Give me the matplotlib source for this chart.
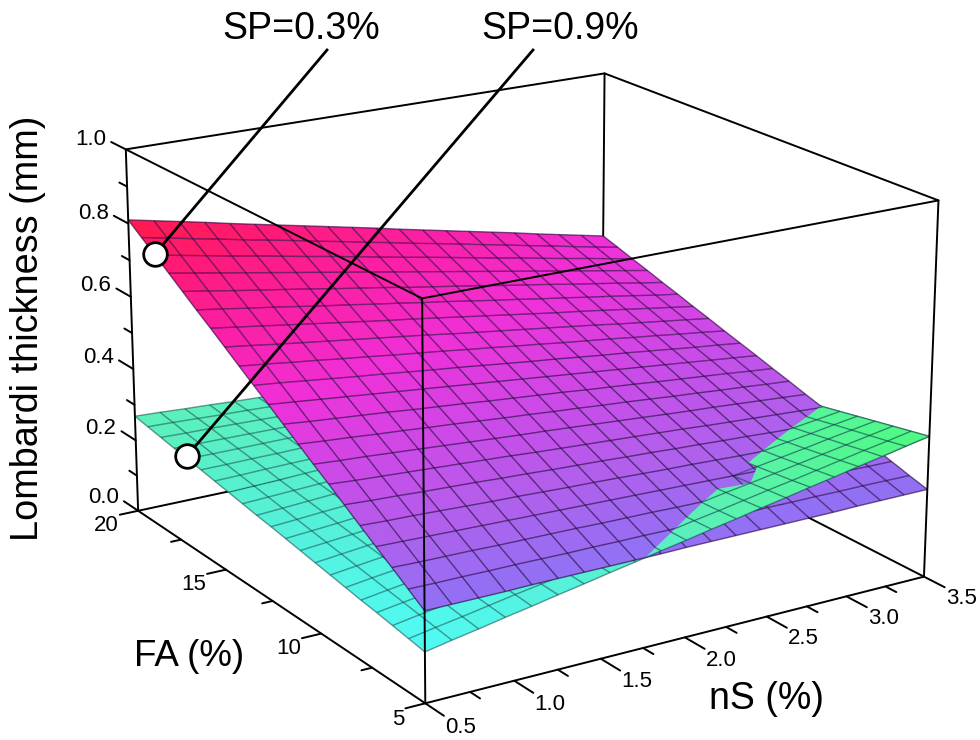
import numpy as np
import matplotlib
matplotlib.use('Agg')
import matplotlib.pyplot as plt
from matplotlib.colors import LinearSegmentedColormap, Normalize
from mpl_toolkits.mplot3d.art3d import Poly3DCollection, Line3DCollection

plt.rcParams['font.family'] = ['Liberation Sans', 'DejaVu Sans']

# Grille des deux surfaces (lignes : FA, colonnes : nS)
nS = [0.5, 0.65, 0.8, 0.95, 1.1, 1.25, 1.4, 1.55, 1.7, 1.85, 2.0, 2.15, 2.3, 2.45, 2.6, 2.75, 2.9, 3.05, 3.2, 3.35, 3.5]
FA = [5, 5.75, 6.5, 7.25, 8, 8.75, 9.5, 10.25, 11, 11.75, 12.5, 13.25, 14, 14.75, 15.5, 16.25, 17, 17.75, 18.5, 19.25, 20]

# Epaisseur (mm), SP=0.3%
sp03 = [
    [.235,.235,.235,.235,.236,.236,.236,.236,.236,.236,.237,.237,.237,.237,.237,.237,.237,.238,.238,.238,.238],
    [.264,.263,.263,.262,.262,.261,.260,.260,.259,.259,.258,.258,.257,.256,.256,.255,.255,.254,.254,.253,.252],
    [.293,.291,.290,.289,.287,.286,.285,.284,.282,.281,.280,.278,.277,.276,.275,.273,.272,.271,.270,.268,.267],
    [.321,.319,.317,.315,.313,.311,.309,.307,.305,.303,.301,.299,.297,.295,.293,.291,.289,.287,.285,.283,.281],
    [.350,.347,.345,.342,.339,.336,.334,.331,.328,.326,.323,.320,.317,.315,.312,.309,.307,.304,.301,.298,.296],
    [.379,.375,.372,.368,.365,.362,.358,.355,.351,.348,.345,.341,.338,.334,.331,.327,.324,.320,.317,.314,.310],
    [.408,.403,.399,.395,.391,.387,.383,.379,.374,.370,.366,.362,.358,.354,.350,.345,.341,.337,.333,.329,.325],
    [.436,.431,.427,.422,.417,.412,.407,.402,.397,.393,.388,.383,.378,.373,.368,.363,.359,.354,.349,.344,.339],
    [.465,.459,.454,.448,.443,.437,.432,.426,.420,.415,.409,.404,.398,.393,.387,.381,.376,.370,.365,.359,.354],
    [.494,.487,.481,.475,.469,.462,.456,.450,.443,.437,.431,.425,.418,.412,.406,.399,.393,.387,.381,.374,.368],
    [.523,.516,.509,.502,.495,.488,.481,.474,.467,.460,.453,.446,.439,.432,.425,.418,.411,.404,.397,.390,.383],
    [.551,.544,.536,.528,.520,.513,.505,.497,.490,.482,.474,.466,.459,.451,.443,.436,.428,.420,.412,.405,.397],
    [.580,.572,.563,.555,.546,.538,.529,.521,.513,.504,.496,.487,.479,.470,.462,.454,.445,.437,.428,.420,.411],
    [.609,.600,.590,.581,.572,.563,.554,.545,.536,.526,.517,.508,.499,.490,.481,.472,.462,.453,.444,.435,.426],
    [.638,.628,.618,.608,.598,.588,.578,.568,.559,.549,.539,.529,.519,.509,.499,.490,.480,.470,.460,.450,.440],
    [.666,.656,.645,.635,.624,.613,.603,.592,.582,.571,.561,.550,.539,.529,.518,.508,.497,.487,.476,.465,.455],
    [.695,.684,.672,.661,.650,.639,.627,.616,.605,.593,.582,.571,.560,.548,.537,.526,.514,.503,.492,.480,.469],
    [.724,.712,.700,.688,.676,.664,.652,.640,.628,.616,.604,.592,.580,.568,.556,.544,.532,.520,.508,.496,.484],
    [.753,.740,.727,.714,.702,.689,.676,.664,.651,.638,.625,.613,.600,.587,.574,.562,.549,.536,.524,.511,.498],
    [.781,.768,.754,.741,.727,.714,.701,.687,.674,.660,.647,.633,.620,.607,.593,.580,.566,.553,.539,.526,.513],
    [.810,.796,.782,.768,.753,.739,.725,.711,.697,.683,.669,.654,.640,.626,.612,.598,.584,.569,.555,.541,.527],
]

# SP=0.9%
sp09 = [
    [.131,.144,.156,.169,.181,.194,.206,.219,.231,.244,.256,.269,.281,.294,.306,.319,.331,.344,.356,.369,.381],
    [.138,.150,.161,.173,.185,.196,.208,.220,.232,.243,.255,.267,.278,.290,.302,.313,.325,.337,.349,.360,.372],
    [.145,.156,.167,.177,.188,.199,.210,.221,.232,.243,.254,.265,.276,.287,.297,.308,.319,.330,.341,.352,.363],
    [.152,.162,.172,.182,.192,.202,.212,.222,.232,.243,.253,.263,.273,.283,.293,.303,.313,.323,.334,.344,.354],
    [.158,.168,.177,.186,.196,.205,.214,.224,.233,.242,.252,.261,.270,.280,.289,.298,.308,.317,.326,.336,.345],
    [.165,.174,.182,.191,.199,.208,.216,.225,.233,.242,.251,.259,.268,.276,.285,.293,.302,.310,.319,.327,.336],
    [.172,.180,.188,.195,.203,.211,.218,.226,.234,.242,.249,.257,.265,.273,.280,.288,.296,.303,.311,.319,.327],
    [.179,.186,.193,.200,.207,.214,.221,.227,.234,.241,.248,.255,.262,.269,.276,.283,.290,.297,.304,.311,.318],
    [.186,.192,.198,.204,.210,.217,.223,.229,.235,.241,.247,.253,.260,.266,.272,.278,.284,.290,.296,.303,.309],
    [.193,.198,.203,.209,.214,.219,.225,.230,.235,.241,.246,.251,.257,.262,.267,.273,.278,.283,.289,.294,.300],
    [.200,.204,.209,.213,.218,.222,.227,.231,.236,.240,.245,.250,.254,.259,.263,.268,.272,.277,.281,.286,.291],
    [.206,.210,.214,.218,.221,.225,.229,.233,.236,.240,.244,.248,.251,.255,.259,.263,.266,.270,.274,.278,.282],
    [.213,.216,.219,.222,.225,.228,.231,.234,.237,.240,.243,.246,.249,.252,.255,.258,.261,.264,.266,.269,.272],
    [.220,.222,.224,.227,.229,.231,.233,.235,.237,.240,.242,.244,.246,.248,.250,.253,.255,.257,.259,.261,.263],
    [.227,.228,.230,.231,.232,.234,.235,.236,.238,.239,.241,.242,.243,.245,.246,.247,.249,.250,.252,.253,.254],
    [.234,.234,.235,.235,.236,.237,.237,.238,.238,.239,.240,.240,.241,.241,.242,.243,.243,.244,.244,.245,.245],
    [.241,.240,.240,.240,.240,.240,.239,.239,.239,.239,.238,.238,.238,.238,.238,.237,.237,.237,.237,.236,.236],
    [.247,.246,.245,.244,.243,.242,.241,.240,.239,.238,.237,.236,.235,.234,.233,.232,.231,.230,.229,.228,.227],
    [.254,.252,.251,.249,.247,.245,.243,.242,.240,.238,.236,.234,.233,.231,.229,.227,.225,.223,.222,.220,.218],
    [.261,.259,.256,.253,.251,.248,.246,.243,.240,.238,.235,.232,.230,.227,.225,.222,.219,.217,.214,.212,.209],
    [.268,.265,.261,.258,.254,.251,.248,.244,.241,.237,.234,.231,.227,.224,.220,.217,.214,.210,.207,.203,.200],
]

z_major = [0.0, 0.2, 0.4, 0.6, 0.8, 1.0]
z_minor = [0.1, 0.3, 0.5, 0.7, 0.9]
fa_major = [5, 10, 15, 20]
fa_minor = [7.5, 12.5, 17.5]
ns_major = [0.5, 1.0, 1.5, 2.0, 2.5, 3.0, 3.5]
ns_minor = [0.75, 1.25, 1.75, 2.25, 2.75, 3.25]

W, H = 980, 740
fig = plt.figure(figsize=(W / 100, H / 100), dpi=100)
ax = fig.add_axes([0.0720985, -0.0994228, 0.8978621, 1.1890607], projection='3d')
ax.computed_zorder = False
ax.set_proj_type('persp', focal_length=0.7853)
ax.view_init(elev=18.7639, azim=-122.424, roll=-0.0735)
ax.set_box_aspect((1.485, 1.4889, 1))
ax.set_xlim(0.5, 3.5)
ax.set_ylim(5, 20)
ax.set_zlim(0, 1)
ax.set_axis_off()

cmap_03 = LinearSegmentedColormap.from_list('sp03', [
    (0.0, '#8f72f5'), (0.16, '#b060ec'), (0.32, '#cc4ae8'), (0.5, '#f030d8'),
    (0.67, '#fa20a8'), (0.85, '#ff1a78'), (1.0, '#ff1a48')])
cmap_09 = LinearSegmentedColormap.from_list('sp09', [
    (0.0, '#50fbf8'), (0.3, '#55f0d8'), (0.55, '#5cf0b8'), (1.0, '#50fa80')])
norm_03 = Normalize(0.235, 0.81)
norm_09 = Normalize(0.13, 0.38)
X, Y = np.meshgrid(nS, FA)
Z03 = np.array(sp03)
Z09 = np.array(sp09)
D = Z09 - Z03  # >0 : la surface SP=0.9 passe au dessus


def clip_poly(pts, d):
    out = []
    for k in range(len(pts)):
        p, q, dp, dq = pts[k], pts[(k + 1) % len(pts)], d[k], d[(k + 1) % len(pts)]
        if dp > 0:
            out.append(p)
        if dp * dq < 0:
            out.append(p + (q - p) * dp / (dp - dq))
    return out


def cells(Z, only_above=False):
    polys, vals = [], []
    for j in range(Z.shape[0] - 1):
        for i in range(Z.shape[1] - 1):
            idx = [(j, i), (j, i + 1), (j + 1, i + 1), (j + 1, i)]
            pts = np.array([[X[a], Y[a], Z[a]] for a in idx])
            if only_above:
                kept = clip_poly(pts, [D[a] for a in idx])
                if len(kept) < 3:
                    continue
                pts = np.array(kept)
            polys.append(pts)
            vals.append(pts[:, 2].mean())
    return polys, np.array(vals)


def mesh(Z, only_above=False):
    segs = []
    for j in range(Z.shape[0]):
        for i in range(Z.shape[1]):
            for nb in [(j, i + 1), (j + 1, i)]:
                if nb[0] >= Z.shape[0] or nb[1] >= Z.shape[1]:
                    continue
                p = np.array([X[j, i], Y[j, i], Z[j, i]])
                q = np.array([X[nb], Y[nb], Z[nb]])
                if only_above:
                    dp, dq = D[j, i], D[nb]
                    if dp <= 0 and dq <= 0:
                        continue
                    if dp * dq < 0:
                        m = p + (q - p) * dp / (dp - dq)
                        if dp > 0:
                            q = m
                        else:
                            p = m
                segs.append([p, q])
    return segs


def add_surface(Z, cmap, norm, line, alpha, zo, only_above=False):
    polys, vals = cells(Z, only_above)
    col = Poly3DCollection(polys, facecolors=cmap(norm(vals)), edgecolors='none', linewidths=0, zorder=zo)
    ax.add_collection3d(col, autolim=False)
    lines = Line3DCollection(mesh(Z, only_above), colors=line, linewidths=1.0, alpha=alpha, zorder=zo + 0.5)
    ax.add_collection3d(lines, autolim=False)


add_surface(Z09, cmap_09, norm_09, '#003838', 0.5, 2)
add_surface(Z03, cmap_03, norm_03, '#28003c', 0.62, 3)
add_surface(Z09, cmap_09, norm_09, '#003838', 0.5, 4, only_above=True)

# Boite : arêtes arrière sous les surfaces, le reste au dessus
box = dict(color='k', lw=1.4, solid_capstyle='round')
ax.plot([0.5, 3.5], [20, 20], [0, 0], zorder=1, **box)
ax.plot([3.5, 3.5], [20, 5], [0, 0], zorder=1, **box)
ax.plot([3.5, 3.5], [20, 20], [0, 1], zorder=1, **box)
ax.plot([0.5, 3.5], [5, 5], [0, 0], zorder=6, **box)
ax.plot([0.5, 0.5], [5, 20], [0, 0], zorder=6, **box)
ax.plot([0.5, 0.5], [5, 5], [0, 1], zorder=6, **box)
ax.plot([0.5, 0.5], [20, 20], [0, 1], zorder=6, **box)
ax.plot([3.5, 3.5], [5, 5], [0, 1], zorder=6, **box)
ax.plot([0.5, 3.5, 3.5, 0.5, 0.5], [5, 5, 20, 20, 5], [1, 1, 1, 1, 1], zorder=6, **box)

# Graduations
for vals, ln in [(z_major, 0.85), (z_minor, 0.45)]:
    for z in vals:
        ax.plot([0.5, 0.5], [20, 20 + ln], [z, z], zorder=6, **box)
for vals, ln in [(fa_major, 0.11), (fa_minor, 0.06)]:
    for fa in vals:
        ax.plot([0.5, 0.5 - ln], [fa, fa], [0, 0], zorder=6, **box)
for vals, ln in [(ns_major, 0.85), (ns_minor, 0.45)]:
    for s in vals:
        ax.plot([s, s], [5, 5 - ln], [0, 0], zorder=6, **box)

tick_fs = 16
for z in z_major:
    ax.text(0.5, 20 + 1.15, z, '%.1f' % z, ha='right', va='center', fontsize=tick_fs)
for fa in fa_major:
    ax.text(0.5 - 0.115, fa, 0, str(fa), ha='right', va='top', fontsize=tick_fs)
for s in ns_major:
    ax.text(s, 5 - 0.9, 0, '%.1f' % s, ha='left', va='top', fontsize=tick_fs)

fig.text(28 / W, 1 - 328 / H, 'Lombardi thickness (mm)', rotation=90, ha='center', va='center', fontsize=27.3)
fig.text(189 / W, 1 - 656 / H, 'FA (%)', ha='center', va='center', fontsize=26.5)
fig.text(766 / W, 1 - 699 / H, 'nS (%)', ha='center', va='center', fontsize=27)

# Renvois SP
for label, tx, x0, y0, x1, y1 in [('SP=0.3%', 301, 327, 50, 155, 254), ('SP=0.9%', 560, 533, 50, 187, 456)]:
    fig.text(tx / W, 1 - 29 / H, label, ha='center', va='center', fontsize=27)
    fig.add_artist(plt.Line2D([x0 / W, x1 / W], [1 - y0 / H, 1 - y1 / H], color='k', lw=2.0, zorder=5))
    fig.add_artist(plt.Line2D([x1 / W], [1 - y1 / H], marker='o', ms=17, mfc='w', mec='k', mew=2.0, ls='', zorder=6))

fig.savefig('out.png', dpi=100)
